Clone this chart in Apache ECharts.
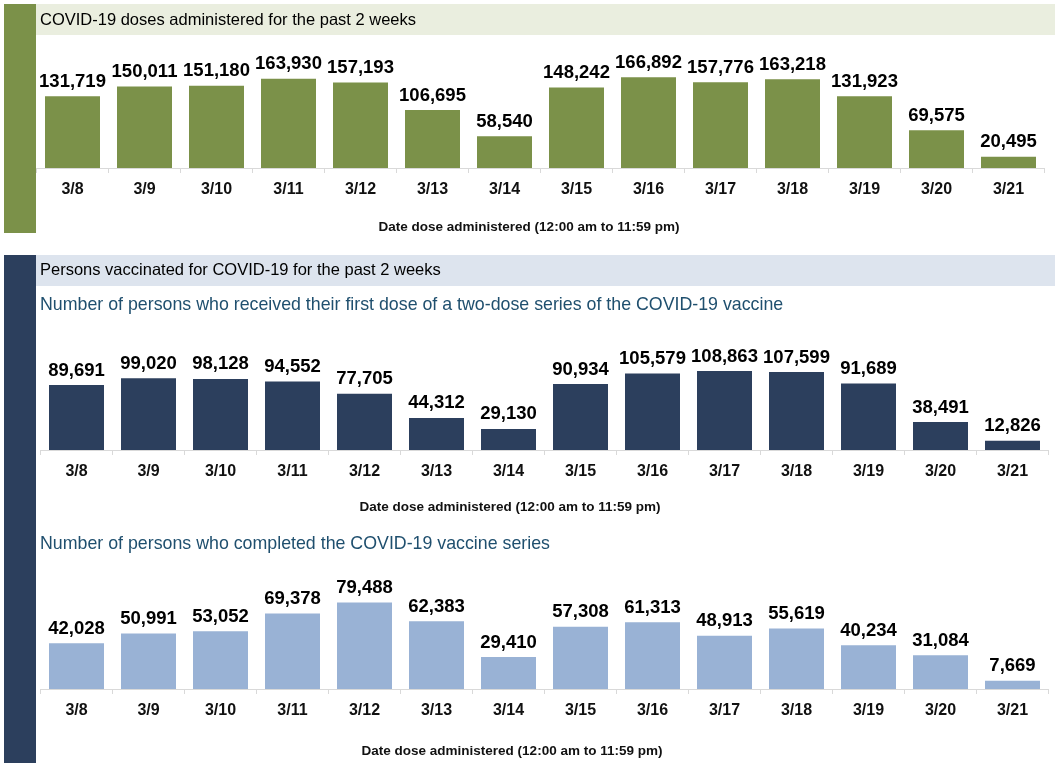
<!DOCTYPE html>
<html>
<head>
<meta charset="utf-8">
<script src="https://cdn.jsdelivr.net/npm/echarts@6/dist/echarts.min.js"></script>
<style>
html,body{margin:0;padding:0;background:#fff;}
#chart{width:1055px;height:768px;}
</style>
</head>
<body>
<div id="chart"></div>
<script>
const categories = ['3/8','3/9','3/10','3/11','3/12','3/13','3/14','3/15','3/16','3/17','3/18','3/19','3/20','3/21'];
const dosesAdministered = [131719,150011,151180,163930,157193,106695,58540,148242,166892,157776,163218,131923,69575,20495];
const firstDose = [89691,99020,98128,94552,77705,44312,29130,90934,105579,108863,107599,91689,38491,12826];
const completed = [42028,50991,53052,69378,79488,62383,29410,57308,61313,48913,55619,40234,31084,7669];

const title1 = 'COVID-19 doses administered for the past 2 weeks';
const title2 = 'Persons vaccinated for COVID-19 for the past 2 weeks';
const subtitle1 = 'Number of persons who received their first dose of a two-dose series of the COVID-19 vaccine';
const subtitle2 = 'Number of persons who completed the COVID-19 vaccine series';
const axisTitle = 'Date dose administered (12:00 am to 11:59 pm)';

const FONT = "'Liberation Sans', Arial, sans-serif";
const chart = echarts.init(document.getElementById('chart'), null, {renderer:'canvas'});

const grids = [
  {left:36.5, right:10.5, top:50, height:118},
  {left:40.5, right:6.5, top:340, height:110},
  {left:40.5, right:6.5, top:580, height:109}
];
const maxes = [217000, 151800, 100300];
const colors = ['#7b9149', '#2c3f5d', '#99b2d5'];
const datasets = [dosesAdministered, firstDose, completed];

function xAxisFor(i){
  return {
    type:'category', gridIndex:i, data:categories,
    axisLine:{show:true, lineStyle:{color:'#d9d9d9', width:1}},
    axisTick:{show:true, length:5, lineStyle:{color:'#d9d9d9'}},
    axisLabel:{margin:14, fontFamily:FONT, fontWeight:'bold', fontSize:16, color:'#111'}
  };
}
function yAxisFor(i){
  return {type:'value', gridIndex:i, min:0, max:maxes[i], show:false, splitLine:{show:false}};
}
function seriesFor(i){
  return {
    type:'bar', xAxisIndex:i, yAxisIndex:i, data:datasets[i], barWidth:55,
    itemStyle:{color:colors[i]},
    label:{show:true, position:'top', distance:5, fontFamily:FONT, fontWeight:'bold', fontSize:18.5, color:'#000',
      formatter:p=>p.value.toLocaleString('en-US')},
    animation:false
  };
}

const option = {
  animation:false,
  backgroundColor:'#fff',
  grid:grids,
  xAxis:[0,1,2].map(xAxisFor),
  yAxis:[0,1,2].map(yAxisFor),
  series:[0,1,2].map(seriesFor),
  graphic:[
    {type:'rect', shape:{x:4,y:4,width:32,height:229}, style:{fill:'#7b9149'}, silent:true},
    {type:'rect', shape:{x:36,y:4,width:1019,height:31}, style:{fill:'#eaeedf'}, silent:true},
    {type:'text', x:40, y:20, style:{text:title1, fill:'#000', font:"16.5px "+FONT, textVerticalAlign:'middle'}},
    {type:'rect', shape:{x:4,y:255,width:32,height:508}, style:{fill:'#2c3f5d'}, silent:true},
    {type:'rect', shape:{x:36,y:255,width:1019,height:31}, style:{fill:'#dde4ee'}, silent:true},
    {type:'text', x:40, y:270, style:{text:title2, fill:'#000', font:"16.5px "+FONT, textVerticalAlign:'middle'}},
    {type:'text', x:40, y:305, style:{text:subtitle1, fill:'#1f4f6e', font:"17.8px "+FONT, textVerticalAlign:'middle'}},
    {type:'text', x:40, y:544, style:{text:subtitle2, fill:'#1f4f6e', font:"17.8px "+FONT, textVerticalAlign:'middle'}},
    {type:'text', x:529, y:227, style:{text:axisTitle, fill:'#111', font:"bold 13.5px "+FONT, textAlign:'center', textVerticalAlign:'middle'}},
    {type:'text', x:510, y:507, style:{text:axisTitle, fill:'#111', font:"bold 13.5px "+FONT, textAlign:'center', textVerticalAlign:'middle'}},
    {type:'text', x:512, y:751, style:{text:axisTitle, fill:'#111', font:"bold 13.5px "+FONT, textAlign:'center', textVerticalAlign:'middle'}}
  ]
};
chart.setOption(option);
</script>
</body>
</html>
